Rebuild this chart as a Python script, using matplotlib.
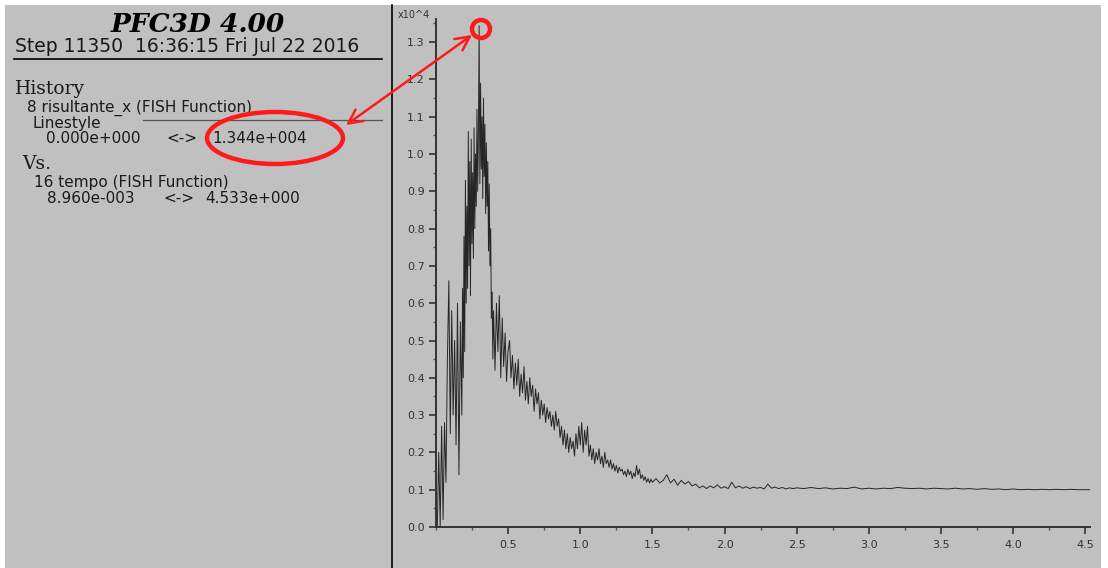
import matplotlib
matplotlib.use("Agg")
import matplotlib.pyplot as plt
from matplotlib.patches import Ellipse, Rectangle, FancyArrowPatch
from matplotlib.lines import Line2D
from matplotlib.ticker import MultipleLocator, FixedLocator

# History 16: tempo (s)
tempo = [
    0.009, 0.019, 0.029, 0.039, 0.049, 0.059, 0.069, 0.079, 0.089, 0.099,
    0.109, 0.119, 0.129, 0.139, 0.149, 0.159, 0.169, 0.179,
    0.184, 0.189, 0.194, 0.199, 0.204, 0.209, 0.214, 0.219, 0.224, 0.229,
    0.234, 0.239, 0.244, 0.249, 0.254, 0.259, 0.264, 0.269, 0.274, 0.279,
    0.284, 0.289, 0.294, 0.299, 0.304, 0.309, 0.314, 0.319, 0.324, 0.329,
    0.334, 0.339, 0.344, 0.349, 0.354, 0.359, 0.364, 0.369, 0.374, 0.379,
    0.384, 0.389, 0.394, 0.399,
    0.409, 0.419, 0.429, 0.439, 0.449, 0.459, 0.469, 0.479, 0.489, 0.499,
    0.51, 0.52, 0.53, 0.54, 0.55, 0.56, 0.57, 0.58, 0.59, 0.60,
    0.61, 0.62, 0.63, 0.64, 0.65, 0.66, 0.67, 0.68, 0.69, 0.70,
    0.71, 0.72, 0.73, 0.74, 0.75, 0.76, 0.77, 0.78, 0.79, 0.80,
    0.81, 0.82, 0.83, 0.84, 0.85, 0.86, 0.87, 0.88, 0.89, 0.90,
    0.91, 0.92, 0.93, 0.94, 0.95, 0.96, 0.97, 0.98, 0.99, 1.00,
    1.01, 1.02, 1.03, 1.04, 1.05, 1.06, 1.07, 1.08, 1.09, 1.10,
    1.11, 1.12, 1.13, 1.14, 1.15, 1.16, 1.17, 1.18, 1.19, 1.20,
    1.21, 1.22, 1.23, 1.24, 1.25, 1.26, 1.27, 1.28, 1.29, 1.30,
    1.31, 1.32, 1.33, 1.34, 1.35, 1.36, 1.37, 1.38, 1.39, 1.40,
    1.41, 1.42, 1.43, 1.44, 1.45, 1.46, 1.47, 1.48, 1.49, 1.50,
    1.525, 1.55, 1.575, 1.60, 1.625, 1.65, 1.675, 1.70, 1.725, 1.75,
    1.775, 1.80, 1.825, 1.85, 1.875, 1.90, 1.925, 1.95, 1.975, 2.00,
    2.025, 2.05, 2.075, 2.10, 2.125, 2.15, 2.175, 2.20, 2.225, 2.25,
    2.275, 2.30, 2.325, 2.35, 2.375, 2.40, 2.425, 2.45, 2.475, 2.50,
    2.55, 2.60, 2.65, 2.70, 2.75, 2.80, 2.85, 2.90, 2.95, 3.00,
    3.05, 3.10, 3.15, 3.20, 3.25, 3.30, 3.35, 3.40, 3.45, 3.50,
    3.55, 3.60, 3.65, 3.70, 3.75, 3.80, 3.85, 3.90, 3.95, 4.00,
    4.05, 4.10, 4.15, 4.20, 4.25, 4.30, 4.35, 4.40, 4.45, 4.50,
    4.533,
]

# History 8: risultante_x, in units of 10^4
risultante_x = [
    0.00, 0.20, 0.00, 0.27, 0.02, 0.28, 0.12, 0.45, 0.66, 0.25,
    0.58, 0.30, 0.50, 0.22, 0.60, 0.14, 0.55, 0.30,
    0.64, 0.40, 0.78, 0.47, 0.93, 0.60, 0.86, 0.64, 1.06, 0.70,
    0.98, 0.62, 1.04, 0.76, 0.95, 0.72, 1.07, 0.80, 1.00, 0.86,
    1.12, 0.90, 1.05, 1.344, 0.92, 1.19, 0.96, 1.10, 0.88, 1.15,
    0.94, 1.08, 0.84, 1.03, 0.86, 0.98, 0.74, 0.92, 0.70, 0.80,
    0.56, 0.63, 0.45, 0.58,
    0.42, 0.60, 0.47, 0.62, 0.40, 0.56, 0.43, 0.52, 0.39, 0.47,
    0.50, 0.40, 0.46, 0.37, 0.44, 0.38, 0.45, 0.35, 0.41, 0.36,
    0.43, 0.34, 0.39, 0.33, 0.40, 0.35, 0.38, 0.31, 0.37, 0.33,
    0.36, 0.29, 0.34, 0.30, 0.33, 0.28, 0.32, 0.29, 0.31, 0.27,
    0.30, 0.26, 0.31, 0.27, 0.29, 0.24, 0.27, 0.22, 0.26, 0.21,
    0.25, 0.20, 0.24, 0.21, 0.23, 0.19, 0.25, 0.21, 0.27, 0.22,
    0.28, 0.20, 0.26, 0.22, 0.27, 0.19, 0.22, 0.18, 0.21, 0.17,
    0.20, 0.18, 0.21, 0.17, 0.19, 0.16, 0.20, 0.17, 0.18, 0.16,
    0.18, 0.155, 0.17, 0.15, 0.165, 0.145, 0.16, 0.15, 0.155, 0.14,
    0.15, 0.135, 0.155, 0.14, 0.15, 0.13, 0.145, 0.135, 0.165, 0.14,
    0.155, 0.13, 0.14, 0.125, 0.135, 0.12, 0.13, 0.118, 0.128, 0.12,
    0.13, 0.118, 0.125, 0.14, 0.118, 0.128, 0.112, 0.125, 0.115, 0.122,
    0.11, 0.115, 0.105, 0.11, 0.103, 0.11, 0.105, 0.113, 0.104, 0.108,
    0.103, 0.12, 0.105, 0.11, 0.104, 0.108, 0.103, 0.107, 0.104, 0.106,
    0.102, 0.115, 0.104, 0.107, 0.103, 0.106, 0.102, 0.105, 0.103, 0.105,
    0.103, 0.106, 0.103, 0.105, 0.102, 0.104, 0.103, 0.107, 0.102, 0.104,
    0.102, 0.104, 0.103, 0.106, 0.104, 0.103, 0.104, 0.102, 0.104, 0.103,
    0.102, 0.104, 0.102, 0.103, 0.101, 0.103, 0.101, 0.102, 0.100, 0.102,
    0.100, 0.101, 0.100, 0.101, 0.100, 0.101, 0.100, 0.101, 0.100, 0.100,
    0.100,
]

x_ticks = [0.5, 1.0, 1.5, 2.0, 2.5, 3.0, 3.5, 4.0, 4.5]
y_ticks = [0.0, 0.1, 0.2, 0.3, 0.4, 0.5, 0.6, 0.7, 0.8, 0.9, 1.0, 1.1, 1.2, 1.3]

# (text, family kind, size, left px, baseline px)
header_lines = [
    ("History", "serif", 13.5, 15, 94),
    ("8 risultante_x (FISH Function)", "sans", 11, 27, 112),
    ("Linestyle", "sans", 11, 33, 128),
    ("0.000e+000", "sans", 11, 46, 143),
    ("<->", "sans", 11, 166, 143),
    ("1.344e+004", "sans", 11, 212, 143),
    ("Vs.", "serif", 13.5, 22, 169),
    ("16 tempo (FISH Function)", "sans", 11, 34, 187),
    ("8.960e-003", "sans", 11, 47, 203),
    ("<->", "sans", 11, 163, 203),
    ("4.533e+000", "sans", 11, 205, 203),
]

W, H = 1108, 568
BG = "#c0c0c0"
INK = "#1a1a1a"
RED = "#ff1a1a"
SANS = "DejaVu Sans"
SERIF = "DejaVu Serif"

fig = plt.figure(figsize=(W / 100, H / 100), dpi=100, facecolor="white")


def fx(px):
    return px / W


def fy(py):
    return 1 - py / H


# gray panel behind everything
fig.patches.append(Rectangle((fx(5), 0), fx(1101) - fx(5), fy(5), transform=fig.transFigure,
                             facecolor=BG, edgecolor="none", zorder=-10))

ax = fig.add_axes([fx(436), fy(527), fx(1090) - fx(436), fy(19) - fy(527)])
ax.set_zorder(1)
ax.set_facecolor("none")
ax.plot(tempo, risultante_x, color="#262626", lw=0.7)
ax.set_xlim(0.0, 4.533)
ax.set_ylim(0.0, 1.362)

for s in ("top", "right"):
    ax.spines[s].set_visible(False)
for s in ("left", "bottom"):
    ax.spines[s].set_color("#333333")
    ax.spines[s].set_linewidth(1.4)

ax.xaxis.set_major_locator(FixedLocator(x_ticks))
ax.xaxis.set_minor_locator(MultipleLocator(0.25))
ax.yaxis.set_major_locator(FixedLocator(y_ticks))
ax.yaxis.set_minor_locator(MultipleLocator(0.05))
ax.set_xticklabels([f"{v:.1f}" for v in x_ticks])
ax.set_yticklabels([f"{v:.1f}" for v in y_ticks])
ax.tick_params(axis="both", which="major", direction="out", length=5, width=1.2,
               color="#333333", labelsize=8, labelcolor="#333333")
ax.tick_params(axis="both", which="minor", direction="out", length=2.5, width=1.0,
               color="#555555")
ax.tick_params(axis="x", which="major", pad=4)
ax.tick_params(axis="y", which="major", pad=3)
for lab in ax.get_xticklabels() + ax.get_yticklabels():
    lab.set_fontfamily(SANS)

fig.text(fx(398), fy(18), "x10^4", fontsize=7, color="#333333",
         family=SANS, va="baseline")

# left info panel
fig.text(fx(198), fy(32), "PFC3D 4.00", fontsize=19, family=SERIF,
         weight="bold", style="italic", ha="center", va="baseline", color="black")
fig.text(fx(15), fy(52), "Step 11350  16:36:15 Fri Jul 22 2016", fontsize=13.5,
         family=SANS, va="baseline", color=INK)
fig.add_artist(Line2D([fx(14), fx(382)], [fy(59), fy(59)], transform=fig.transFigure,
                      color="black", lw=1.2))
for txt, kind, size, px, py in header_lines:
    fam = SERIF if kind == "serif" else SANS
    fig.text(fx(px), fy(py), txt, fontsize=size, family=fam, va="baseline", color=INK)
fig.add_artist(Line2D([fx(143), fx(382)], [fy(119.5), fy(119.5)], transform=fig.transFigure,
                      color="#555555", lw=0.9))

# divider between panels
fig.add_artist(Line2D([fx(392), fx(392)], [0, fy(5)], transform=fig.transFigure,
                      color="black", lw=1.2))

# red markup
fig.add_artist(Ellipse((fx(275), fy(138)), fx(136), 52 / H, transform=fig.transFigure,
                       fill=False, edgecolor=RED, lw=3.2, zorder=10))
fig.add_artist(Ellipse((fx(481), fy(29)), fx(18), 18 / H, transform=fig.transFigure,
                       fill=False, edgecolor=RED, lw=3.2, zorder=10))
fig.add_artist(FancyArrowPatch((fx(346), fy(125)), (fx(472), fy(35)), transform=fig.transFigure,
                               arrowstyle="<->,head_length=10,head_width=5", color=RED,
                               lw=1.8, zorder=10, shrinkA=0, shrinkB=0))

fig.savefig("out.png", dpi=100, facecolor="white")
